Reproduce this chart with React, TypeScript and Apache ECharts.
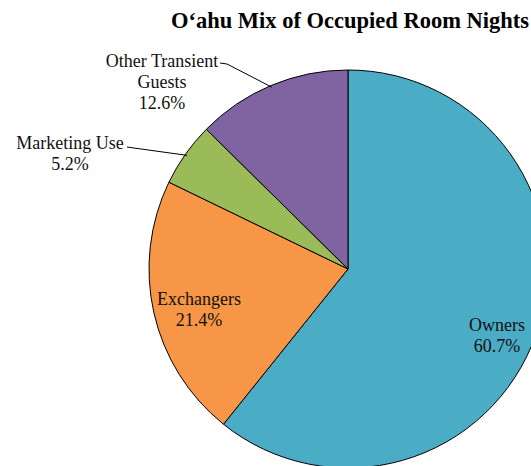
import React, { useEffect, useRef } from "react";
import * as echarts from "echarts";

const titleText = "O\u2018ahu Mix of Occupied Room Nights";
const categories = ["Owners", "Exchangers", "Marketing Use", "Other Transient Guests"];
const labelNames = ["Owners", "Exchangers", "Marketing Use", "Other Transient\nGuests"];
const shares = [60.7, 21.4, 5.2, 12.6];
const colors = ["#4BACC6", "#F79646", "#9BBB59", "#8064A2"];

// layout (not data)
const CX = 348;
const CY = 269;
const R = 199;
const labelCenters: number[][] = [
  [497, 335],
  [199, 309],
  [70, 153],
  [162, 82],
];
const leaderStarts: (number[] | null)[] = [null, null, [127, 147], [220, 63]];
const FONT = "'Liberation Serif', 'Times New Roman', serif";

export default function App() {
  const ref = useRef<HTMLDivElement>(null);
  useEffect(() => {
    if (!ref.current) return;
    const chart = echarts.init(ref.current, undefined, { renderer: "svg" });
    const total = shares.reduce((a, b) => a + b, 0);
    const mids: number[] = [];
    let acc = 0;
    shares.forEach((v) => {
      mids.push((acc + v / 2) / total);
      acc += v;
    });

    const graphics: any[] = [];
    categories.forEach((_, i) => {
      const c = labelCenters[i];
      graphics.push({
        type: "text",
        x: c[0],
        y: c[1],
        z: 100,
        style: {
          text: `${labelNames[i]}\n${shares[i]}%`,
          fontFamily: FONT,
          fontSize: 18,
          lineHeight: 21,
          fill: "#111",
          align: "center",
          verticalAlign: "middle",
        },
      });
      const s = leaderStarts[i];
      if (s) {
        const a = mids[i] * Math.PI * 2;
        const ex = CX + (R - 2) * Math.sin(a);
        const ey = CY - (R - 2) * Math.cos(a);
        graphics.push({
          type: "polyline",
          z: 100,
          shape: {
            points: [
              [s[0], s[1]],
              [s[0] + 7, s[1] + 1],
              [ex, ey],
            ],
          },
          style: { stroke: "#000", lineWidth: 1, fill: null },
        });
      }
    });

    chart.setOption({
      animation: false,
      textStyle: { fontFamily: FONT },
      title: {
        text: titleText,
        left: 345,
        top: 4,
        textAlign: "center",
        textStyle: { fontFamily: FONT, fontWeight: "bold", fontSize: 22.5, color: "#000" },
      },
      graphic: graphics,
      series: [
        {
          type: "pie",
          center: [CX, CY],
          radius: [0, R],
          startAngle: 90,
          clockwise: true,
          itemStyle: { borderColor: "#000", borderWidth: 1 },
          label: { show: false },
          labelLine: { show: false },
          data: categories.map((name, i) => ({
            name,
            value: shares[i],
            itemStyle: { color: colors[i] },
          })),
        },
      ],
    });
    return () => chart.dispose();
  }, []);
  return (
    <div
      ref={ref}
      style={{ position: "absolute", left: 0, top: 0, width: 531, height: 466, overflow: "hidden" }}
    />
  );
}
